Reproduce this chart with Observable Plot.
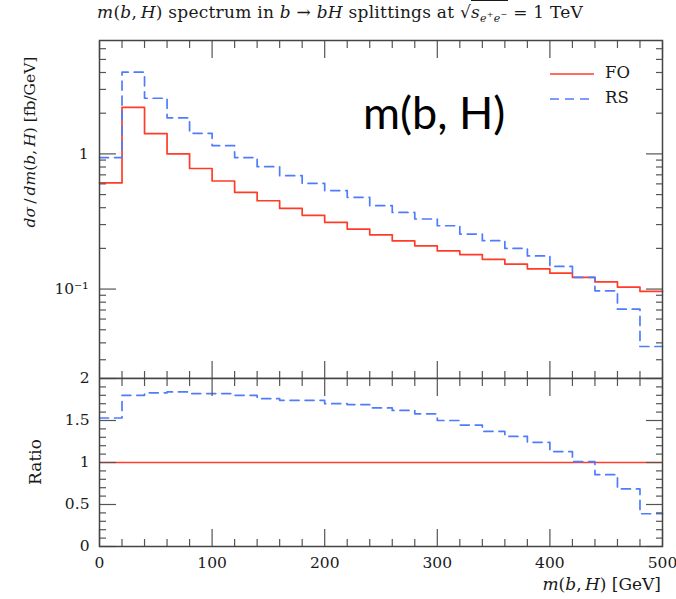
<!DOCTYPE html>
<html><head><meta charset="utf-8">
<script src="https://cdn.jsdelivr.net/npm/d3@7"></script>
<script src="https://cdn.jsdelivr.net/npm/@observablehq/plot@0.6"></script>
<style>
body{margin:0;background:#fff;}
#wrap{position:relative;width:676px;height:599px;overflow:hidden;font-family:"DejaVu Serif",serif;color:#1a1a1a;}
#wrap svg{position:absolute;left:0;top:0;}
.abs{position:absolute;white-space:nowrap;}
.rot{transform:translate(-50%,-50%) rotate(-90deg);}
</style></head><body><div id="wrap"></div>
<script>
// ---- data ----
const binEdges = [0,20,40,60,80,100,120,140,160,180,200,220,240,260,280,300,320,340,360,380,400,420,440,460,480];
const xEnd = 500;
const foValues = [0.61,2.21,1.41,1.0,0.78,0.63,0.52,0.45,0.395,0.351,0.311,0.278,0.252,0.227,0.209,0.192,0.180,0.166,0.153,0.141,0.131,0.122,0.113,0.1035,0.096];
const rsValues = [0.94,4.02,2.58,1.85,1.42,1.15,0.94,0.805,0.69,0.605,0.535,0.477,0.414,0.369,0.330,0.294,0.255,0.228,0.200,0.176,0.147,0.122,0.097,0.071,0.0376];
const rsRatio  = [1.53,1.80,1.83,1.84,1.82,1.82,1.80,1.76,1.74,1.74,1.70,1.69,1.65,1.62,1.58,1.50,1.445,1.37,1.31,1.24,1.13,1.01,0.855,0.685,0.39];
const foRatio  = [1];
const xMajor = [0,100,200,300,400,500];
const xMinor = [20,40,60,80,120,140,160,180,220,240,260,280,320,340,360,380,420,440,460,480];
const yMajor = [0.1,1];
const yMinor = [0.03,0.04,0.05,0.06,0.07,0.08,0.09,0.2,0.3,0.4,0.5,0.6,0.7,0.8,0.9,2,3,4,5,6];
const rMajor = [0,0.5,1,1.5,2];
const rMinor = [0.1,0.2,0.3,0.4,0.6,0.7,0.8,0.9,1.1,1.2,1.3,1.4,1.6,1.7,1.8,1.9];
const seriesNames = ["FO","RS"];

const RED = "#ff3c28", BLUE = "#4f7cff", TICK = "#555", DASH = "9,6";
const steps = vals => binEdges.map((x,i)=>({x, y: vals[i]})).concat([{x: xEnd, y: vals[vals.length-1]}]);

function ticksX(data, size){
  return [
    Plot.axisX(data, {anchor:"bottom", tickSize:-size, fill:"none", stroke:TICK, strokeWidth:1.2, label:null}),
    Plot.axisX(data, {anchor:"top", tickSize:-size, fill:"none", stroke:TICK, strokeWidth:1.2, label:null})
  ];
}
function ticksY(data, size){
  return [
    Plot.axisY(data, {anchor:"left", tickSize:-size, fill:"none", stroke:TICK, strokeWidth:1.2, label:null}),
    Plot.axisY(data, {anchor:"right", tickSize:-size, fill:"none", stroke:TICK, strokeWidth:1.2, label:null})
  ];
}

const topPlot = Plot.plot({
  width: 676, height: 378, marginLeft: 99, marginRight: 14, marginTop: 40, marginBottom: 0,
  style: {background:"transparent", fontFamily:"DejaVu Serif", fontSize:"15.5px", color:"#1a1a1a"},
  x: {domain:[0,500]},
  y: {type:"log", domain:[0.0218, 6.9]},
  marks: [
    Plot.line(steps(foValues), {x:"x", y:"y", curve:"step-after", stroke:RED, strokeWidth:1.7}),
    Plot.line(steps(rsValues), {x:"x", y:"y", curve:"step-after", stroke:BLUE, strokeWidth:1.7, strokeDasharray:DASH}),
    ...ticksX(xMajor, 17), ...ticksX(xMinor, 7),
    ...ticksY(yMajor, 17), ...ticksY(yMinor, 7),
    Plot.axisY(yMajor, {anchor:"left", tickSize:0, tickPadding:11, label:null, tickFormat: d => d === 1 ? "1" : "10\u207B\u00B9"}),
    Plot.frame({stroke:"#444", strokeWidth:1.5})
  ]
});

const ratioPlot = Plot.plot({
  width: 676, height: 599, marginLeft: 99, marginRight: 14, marginTop: 378, marginBottom: 53,
  style: {background:"transparent", fontFamily:"DejaVu Serif", fontSize:"15.5px", color:"#1a1a1a"},
  x: {domain:[0,500]},
  y: {domain:[0,2]},
  marks: [
    Plot.ruleY(foRatio, {y: d => d, stroke:RED, strokeWidth:1.7}),
    Plot.line(steps(rsRatio), {x:"x", y:"y", curve:"step-after", stroke:BLUE, strokeWidth:1.7, strokeDasharray:DASH}),
    ...ticksX(xMajor, 17), ...ticksX(xMinor, 7),
    ...ticksY(rMajor, 17), ...ticksY(rMinor, 7),
    Plot.axisY(rMajor, {anchor:"left", tickSize:0, tickPadding:10, label:null, tickFormat: d => String(d)}),
    Plot.axisX(xMajor, {anchor:"bottom", tickSize:0, tickPadding:10, label:null, tickFormat: d => String(d)}),
    Plot.frame({stroke:"#444", strokeWidth:1.5})
  ]
});

const wrap = document.getElementById("wrap");
wrap.appendChild(ratioPlot);
wrap.appendChild(topPlot);

function add(html, css, cls="abs"){
  const d = document.createElement("div");
  d.className = cls; d.innerHTML = html; d.style.cssText = css; wrap.appendChild(d); return d;
}
// title
add('<i>m</i>(<i>b</i>,&#8201;<i>H</i>) spectrum in <i>b</i> \u2192 <i>bH</i> splittings at \u221A<span style="border-top:1px solid #1a1a1a;padding-top:1px"><i>s</i><sub style="font-size:11px"><i>e</i><sup style="font-size:8px">+</sup><i>e</i><sup style="font-size:8px">\u2212</sup></sub></span> = 1 TeV',
  "left:97px;top:2px;font-size:17px;letter-spacing:0.25px;");
// y label
add('<i>d\u03C3</i>&#8201;/&#8201;<i>dm</i>(<i>b</i>,&#8201;<i>H</i>) [fb/GeV]', "left:30px;top:142px;font-size:15.5px;", "abs rot");
add('Ratio', "left:35px;top:462px;font-size:17px;", "abs rot");
// x label
add('<i>m</i>(<i>b</i>,&#8201;<i>H</i>) [GeV]', "right:15px;top:574px;font-size:17px;");
// legend
const sw = (c, dash) => `<svg width="44" height="4" style="vertical-align:middle;position:static"><line x1="0" x2="44" y1="2" y2="2" stroke="${c}" stroke-width="1.7" ${dash?`stroke-dasharray="${dash}"`:""}/></svg>`;
add(sw(RED) + `<span style="margin-left:11px">${seriesNames[0]}</span>`, "left:550px;top:62px;font-size:16.5px;line-height:22px;");
add(sw(BLUE, DASH) + `<span style="margin-left:11px">${seriesNames[1]}</span>`, "left:550px;top:87px;font-size:16.5px;line-height:22px;");
// big annotation
add('m(b, H)', "left:363px;top:90px;font-family:Lato,sans-serif;font-size:45px;line-height:1;color:#000;");
</script></body></html>
